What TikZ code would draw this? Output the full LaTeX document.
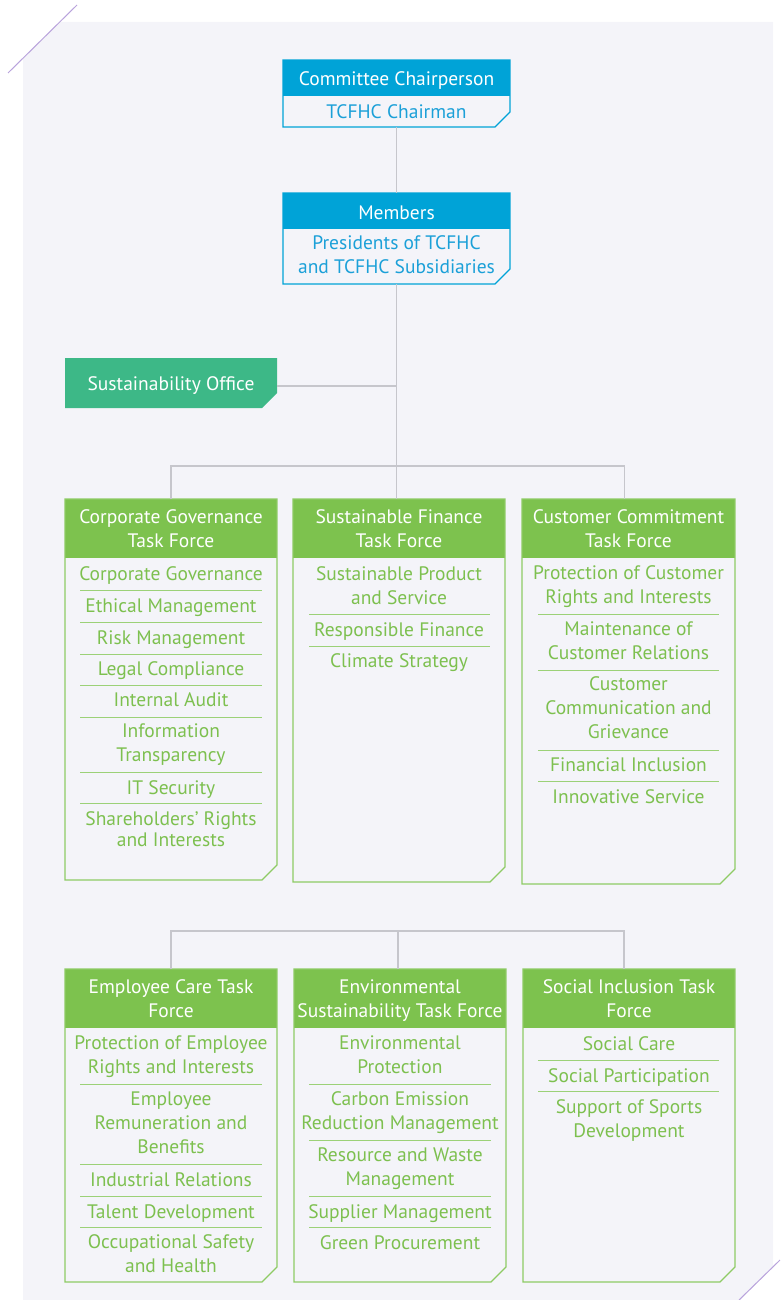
\documentclass[tikz,border=0pt]{standalone}
\usepackage{fontspec}
\setmainfont{PT Sans}
\definecolor{bgc}{HTML}{F4F4F9}
\definecolor{purp}{HTML}{B9A3DC}
\definecolor{blueh}{HTML}{00A3D7}
\definecolor{bluet}{HTML}{1BA0D8}
\definecolor{greenh}{HTML}{7DC24E}
\definecolor{greent}{HTML}{7DC04F}
\definecolor{greenl}{HTML}{8ECB65}
\definecolor{greend}{HTML}{9CD178}
\definecolor{office}{HTML}{3DB887}
\definecolor{conn}{HTML}{C6C6CC}
% chamfered outline: x1,y1,x2,y2,cut
\newcommand\chamfpath[5]{(#1,#2) -- (#3,#2) -- (#3,#4-#5) -- (#3-#5,#4) -- (#1,#4) -- cycle}
\begin{document}
\begin{tikzpicture}[x=1pt,y=-1pt,
  txt/.style={inner sep=0pt, align=center, font=\fontsize{19.5}{24}\selectfont,
    yshift=-3pt, execute at begin node=\strut, execute at end node=\strut},
  hdr/.style={txt, text=white},
  btxt/.style={txt, text=bluet},
  itm/.style={txt, text=greent},
  frame/.style={inner sep=0pt, outer sep=0pt, draw=none, rectangle},
  connector/.style={draw=conn, line width=1.4pt},
  divider/.style={draw=greend, line width=1pt},
  greenbox/.style={draw=greenl, line width=1.2pt},
  bluebox/.style={draw=blueh, line width=1.2pt}]
\useasboundingbox (0,0) rectangle (780,1300);

% backdrop with cut corners and the two slanted strokes
\fill[bgc] (60,22) -- (773,22) -- (773,1267) -- (740,1300) -- (23,1300) -- (23,58) -- cycle;
\draw[purp, line width=1pt] (8,73) -- (77,5);
\draw[purp, line width=1pt] (780,1260) -- (739,1300);

% ---------- top blue boxes ----------
\fill[blueh] (283,60) rectangle (510,96);
\draw[bluebox] \chamfpath{283}{60}{510}{127}{15};
\node[frame, minimum width=227pt, minimum height=67pt] (chair) at (396.5,93.5) {};
\node[hdr] (chairT) at (396.5,78) {Committee Chairperson};
\node[btxt] (chairB) at (396.5,111) {TCFHC Chairman};

\fill[blueh] (283,193) rectangle (510,229);
\draw[bluebox] \chamfpath{283}{193}{510}{284}{15};
\node[frame, minimum width=227pt, minimum height=91pt] (members) at (396.5,238.5) {};
\node[hdr] (membersT) at (396.5,212) {Members};
\node[btxt] (membersB) at (396.5,255) {Presidents of TCFHC\\and TCFHC Subsidiaries};

% ---------- sustainability office ----------
\fill[office] \chamfpath{65}{358}{277}{408}{15};
\node[frame, minimum width=212pt, minimum height=50pt] (office) at (171,383) {};
\node[hdr] (officeT) at (171,383) {Sustainability Office};

% ---------- task forces, first row ----------
\fill[greenh] (65,499) rectangle (277,558);
\draw[greenbox] \chamfpath{65}{499}{277}{880}{15};
\node[frame, minimum width=212pt, minimum height=381pt] (cg) at (171,689.5) {};
\node[hdr] at (171,529) {Corporate Governance\\Task Force};
\node[itm] (cg1) at (171,573) {Corporate Governance};
\node[itm] (cg2) at (171,605) {Ethical Management};
\node[itm] (cg3) at (171,637) {Risk Management};
\node[itm] (cg4) at (171,668) {Legal Compliance};
\node[itm] (cg5) at (171,699) {Internal Audit};
\node[itm] (cg6) at (171,743) {Information\\Transparency};
\node[itm] (cg7) at (171,787) {IT Security};
\node[itm] (cg8) at (171,829.5) {Shareholders' Rights\\[-3pt]and Interests};
\foreach \y in {590,622,654,685,717,772,803}
  \draw[divider] (80,\y) -- (262,\y);

\fill[greenh] (293,499) rectangle (505,558);
\draw[greenbox] \chamfpath{293}{499}{505}{882}{15};
\node[frame, minimum width=212pt, minimum height=383pt] (sf) at (399,690.5) {};
\node[hdr] at (399,529) {Sustainable Finance\\Task Force};
\node[itm] (sf1) at (399,586) {Sustainable Product\\and Service};
\node[itm] (sf2) at (399,629) {Responsible Finance};
\node[itm] (sf3) at (399,660) {Climate Strategy};
\foreach \y in {614,646}
  \draw[divider] (309,\y) -- (490,\y);

\fill[greenh] (522,499) rectangle (735,558);
\draw[greenbox] \chamfpath{522}{499}{735}{884}{15};
\node[frame, minimum width=213pt, minimum height=385pt] (cc) at (628.5,691.5) {};
\node[hdr] at (628.5,529) {Customer Commitment\\Task Force};
\node[itm] (cc1) at (628.5,585) {Protection of Customer\\Rights and Interests};
\node[itm] (cc2) at (628.5,641) {Maintenance of\\Customer Relations};
\node[itm] (cc3) at (628.5,708.5) {Customer\\Communication and\\Grievance};
\node[itm] (cc4) at (628.5,764) {Financial Inclusion};
\node[itm] (cc5) at (628.5,796) {Innovative Service};
\foreach \y in {614,670,750,781}
  \draw[divider] (538,\y) -- (719,\y);

% ---------- task forces, second row ----------
\fill[greenh] (65,969) rectangle (277,1028);
\draw[greenbox] \chamfpath{65}{969}{277}{1282}{15};
\node[frame, minimum width=212pt, minimum height=313pt] (ec) at (171,1125.5) {};
\node[hdr] at (171,999) {Employee Care Task\\Force};
\node[itm] (ec1) at (171,1055) {Protection of Employee\\Rights and Interests};
\node[itm] (ec2) at (171,1123) {Employee\\Remuneration and\\Benefits};
\node[itm] (ec3) at (171,1179) {Industrial Relations};
\node[itm] (ec4) at (171,1211) {Talent Development};
\node[itm] (ec5) at (171,1254) {Occupational Safety\\and Health};
\foreach \y in {1084,1164,1196,1227}
  \draw[divider] (80,\y) -- (262,\y);

\fill[greenh] (294,969) rectangle (506,1028);
\draw[greenbox] \chamfpath{294}{969}{506}{1282}{15};
\node[frame, minimum width=212pt, minimum height=313pt] (es) at (400,1125.5) {};
\node[hdr] at (400,999) {Environmental\\Sustainability Task Force};
\node[itm] (es1) at (400,1055) {Environmental\\Protection};
\node[itm] (es2) at (400,1111) {Carbon Emission\\Reduction Management};
\node[itm] (es3) at (400,1167) {Resource and Waste\\Management};
\node[itm] (es4) at (400,1211) {Supplier Management};
\node[itm] (es5) at (400,1242) {Green Procurement};
\foreach \y in {1084,1140,1196,1227}
  \draw[divider] (309,\y) -- (491,\y);

\fill[greenh] (523,969) rectangle (735,1028);
\draw[greenbox] \chamfpath{523}{969}{735}{1282}{15};
\node[frame, minimum width=212pt, minimum height=313pt] (si) at (629,1125.5) {};
\node[hdr] at (629,999) {Social Inclusion Task\\Force};
\node[itm] (si1) at (629,1043) {Social Care};
\node[itm] (si2) at (629,1075) {Social Participation};
\node[itm] (si3) at (629,1119) {Support of Sports\\Development};
\foreach \y in {1060,1091}
  \draw[divider] (538,\y) -- (719,\y);

% ---------- connectors ----------
\draw[connector] (chair.south) -- (members.north);
\coordinate (bus1) at (396.5,466);
\coordinate (officeJ) at (396.5,386);
\draw[connector] (members.south) -- (bus1);
\draw[connector] (office.east |- officeJ) -- (officeJ);
\draw[connector] (cg.north) -- (cg.north |- bus1) -| ([xshift=-4pt]cc.north);
\draw[connector] (bus1) -- (bus1 |- sf.north);
\coordinate (bus2) at (398,931);
\draw[connector] (ec.north) -- (ec.north |- bus2) -| ([xshift=-5pt]si.north);
\draw[connector] (bus2) -- (bus2 |- es.north);
\end{tikzpicture}
\end{document}
